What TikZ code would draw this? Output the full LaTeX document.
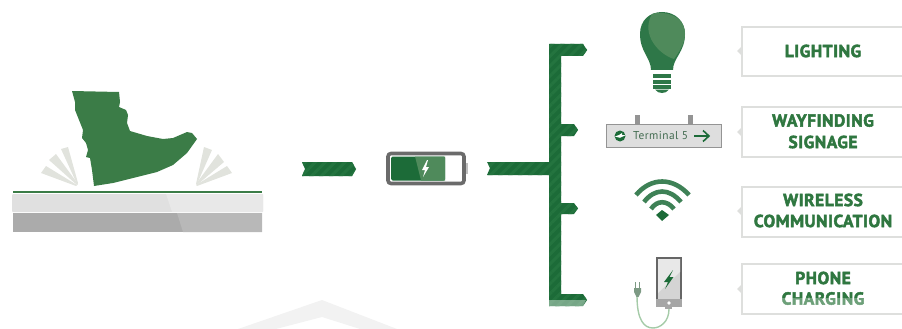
\documentclass[tikz,border=0pt]{standalone}
\usepackage{fontspec}
\setmainfont{PT Sans}[LetterSpace=3,BoldFeatures={FakeBold=2.6}]
\usetikzlibrary{patterns.meta}
\definecolor{busgreen}{HTML}{1C6B38}
\definecolor{busstripe}{HTML}{24743F}
\definecolor{bootgreen}{HTML}{3B7C47}
\definecolor{lightgreen}{HTML}{4F8A5B}
\definecolor{labelgreen}{HTML}{2F7740}
\definecolor{boxgray}{HTML}{DEDFDD}
\definecolor{fangray}{HTML}{E1E3DD}
\definecolor{plugcolor}{HTML}{7D9A84}
\definecolor{cablecolor}{HTML}{A5CBA8}
\tikzset{
	bus/.style={pattern={Lines[angle=45,distance=7pt,line width=3pt]},pattern color=busstripe},
	labelbox/.style={draw=boxgray,line width=2.6pt,fill=white},
	labeltext/.style={text=labelgreen,font=\fontsize{17.4}{20}\selectfont\bfseries,align=center},
	fan/.style={fill=fangray},
	wave/.style={draw=busgreen!85!white,line width=4.6pt}
}
\begin{document}
\begin{tikzpicture}[x=1pt,y=-1pt]
	\useasboundingbox (0,0) rectangle (902,329);
	% watermark
	\fill[black!5] (238,329) -- (322,300) -- (397,329) -- (360,329) -- (322,317) -- (276,329) -- cycle;
	% platform
	\fill[black!12,rounded corners=1pt] (12,194) rectangle (263,212);
	\fill[black!9] (166,194) -- (263,194) -- (263,212) -- (172,212) -- cycle;
	\fill[black!33] (13,213) rectangle (262,232);
	\fill[black!28] (177,213) -- (262,213) -- (262,232) -- (183,232) -- cycle;
	\draw[bootgreen,line width=1.6pt] (13,192) -- (262,192);
	% boot
	\fill[bootgreen] (72,91) -- (119,92) -- (120,102) -- (119,107) -- (126,110) -- (128,115)
		-- (127,123) -- (130,131) -- (147,136) -- (163,139) -- (173,138) -- (187,132) -- (192,133)
		-- (197,139) -- (187,153) -- (173,165) -- (157,172) -- (133,178) -- (113,183) -- (94,186)
		-- (92,170) -- (90,158) -- (86,157) -- (88,150) -- (86,143) -- (82,138) -- (83,130)
		-- (79,120) -- (75,110) -- (75,102) -- cycle;
	\fill[fan] (61,149) -- (68,147) -- (78,183) -- (77,184) -- cycle;
	\fill[fan] (49,160) -- (56,154) -- (78,184) -- (77,185) -- cycle;
	\fill[fan] (41,173) -- (46,166) -- (77,185) -- (76,186) -- cycle;
	\fill[fan] (204,147) -- (212,150) -- (197,184) -- (196,184) -- cycle;
	\fill[fan] (218,154) -- (224,162) -- (197,185) -- (196,184) -- cycle;
	\fill[fan] (227,166) -- (232,173) -- (197,186) -- (196,185) -- cycle;
	% arrows
	\fill[busgreen] (302,162) -- (352,162) -- (356,169) -- (352,176) -- (302,176) -- (305,169) -- cycle;
	\fill[bus] (302,162) -- (352,162) -- (356,169) -- (352,176) -- (302,176) -- (305,169) -- cycle;
	\fill[busgreen] (487,162) -- (549,162) -- (549,44) -- (583,44) -- (587,50) -- (583,56) -- (561,56)
		-- (561,124) -- (574,124) -- (578,130) -- (574,136) -- (561,136) -- (561,203) -- (574,203)
		-- (578,208.5) -- (574,214) -- (561,214) -- (561,294) -- (583,294) -- (587,300) -- (583,306)
		-- (549,306) -- (549,175) -- (487,175) -- (490,168) -- cycle;
	\fill[bus] (487,162) -- (549,162) -- (549,44) -- (583,44) -- (587,50) -- (583,56) -- (561,56)
		-- (561,124) -- (574,124) -- (578,130) -- (574,136) -- (561,136) -- (561,203) -- (574,203)
		-- (578,208.5) -- (574,214) -- (561,214) -- (561,294) -- (583,294) -- (587,300) -- (583,306)
		-- (549,306) -- (549,175) -- (487,175) -- (490,168) -- cycle;
	\fill[white,opacity=.4] (549,300) -- (586,300) -- (583,306) -- (549,306) -- cycle;
	% battery
	\fill[black!25] (465,163) rectangle (468,174);
	\draw[black!58,line width=3.6pt,rounded corners=3pt,fill=white] (388,153.5) rectangle (464,183.5);
	\fill[busgreen,rounded corners=1.5pt] (391,156.5) rectangle (445,180.5);
	\fill[lightgreen] (415,156.5) -- (445,156.5) -- (445,180.5) -- (421,180.5) -- cycle;
	\fill[white] (427,160) -- (422,170) -- (425,170) -- (423,177) -- (429,167) -- (426,167) -- (428,160) -- cycle;
	% bulb
	\fill[busgreen!92!white] (651,70) .. controls (651,58) and (640,52) .. (640,34)
		.. controls (640,20) and (650,12) .. (662,12) .. controls (675,12) and (685,21) .. (685,34)
		.. controls (685,52) and (673,58) .. (673,70) -- cycle;
	\fill[lightgreen] (652,14) .. controls (660,11) and (685,13) .. (685,34)
		.. controls (685,43) and (679,52) .. (674,59) .. controls (660,55) and (640,35) .. (652,14) -- cycle;
	\fill[busgreen!92!white] (653,74) rectangle (671,78);
	\fill[busgreen!92!white] (653,80) rectangle (671,83.5);
	\fill[busgreen!92!white] (653,85) rectangle (671,88.5);
	\fill[busgreen!92!white] (655,89.5) -- (669,89.5) .. controls (667,92) and (665,93) .. (662,93)
		.. controls (659,93) and (657,92) .. (655,89.5) -- cycle;
	% sign
	\fill[black!42] (635,115) rectangle (640,124);
	\fill[black!42] (688,115) rectangle (693,124);
	\draw[black!42,fill=black!13,line width=1pt] (606.5,124.5) rectangle (721.5,147);
	\node[circle,fill=busgreen,inner sep=0pt,minimum size=11pt] (logo) at (620,136) {};
	\fill[white] (615,136.5) -- (619,135) -- (622,133) -- (622,135) -- (625.5,135.2) -- (620,137.8) -- cycle;
	\node[anchor=west,inner sep=0pt,text=black!35!busgreen!80!white,font=\addfontfeatures{LetterSpace=4}\fontsize{11.4}{12}\selectfont] (terminal) at (633,136) {Terminal 5};
	\coordinate (signa) at (694,136);
	\coordinate (signb) at (709,136);
	\draw[busgreen,line width=1.6pt] (signa) -- (signb);
	\draw[busgreen,line width=1.6pt] (703,130.5) -- (signb) -- (703,141.5);
	% wifi
	\draw[wave] (636,195) .. controls (651,177) and (673,177) .. (689,195);
	\draw[wave] (644,202) .. controls (655,188) and (669,188) .. (681,202);
	\draw[wave] (651,209) .. controls (657,200) and (667,200) .. (674,209);
	\fill[busgreen] (656,215) -- (662,210) -- (669,215) -- (662,221) -- cycle;
	% phone
	\draw[black!60,line width=1.8pt,fill=black!17] (656.9,257.9) rectangle (681.1,300);
	\fill[black!9] (658,259) -- (680,259) -- (680,272) -- (658,293) -- cycle;
	\fill[black!35] (656,299) rectangle (682,307);
	\fill[white] (669,303) circle (1.9);
	\fill[busgreen] (673,270) -- (664,282) -- (668,282) -- (665,289) -- (673.5,277) -- (669.5,277) -- cycle;
	\fill[black!35] (665,307) rectangle (672,309);
	\draw[cablecolor,line width=1.4pt] (669,309) .. controls (669,322) and (660,328) .. (653,328)
		.. controls (644,328) and (637,320) .. (637,296);
	\fill[plugcolor] (634,288) -- (641,288) -- (641,292) -- (638.5,297) -- (636.5,297) -- (634,292) -- cycle;
	\fill[plugcolor] (634.8,282) rectangle (636.2,288);
	\fill[plugcolor] (638.8,282) rectangle (640.2,288);
	% labels
	\foreach \ytop/\ybot/\ymid in {27/76/51,107/157/132,187/237/211,264/314/289}{
		\fill[boxgray] (741,\ymid-4) -- (737,\ymid) -- (741,\ymid+4) -- cycle;
		\draw[labelbox] (742,\ytop) rectangle (904,\ybot);
	}
	\node[labeltext] (lighting) at (823,51) {LIGHTING};
	\node[labeltext] (wayfinding) at (823,120.5) {WAYFINDING};
	\node[labeltext] (signage) at (823,142) {SIGNAGE};
	\node[labeltext] (wireless) at (823,200) {WIRELESS};
	\node[labeltext] (communication) at (823,221) {COMMUNICATION};
	\node[labeltext] (phone) at (823,278) {PHONE};
	\node[labeltext] (charging) at (823,298.5) {CHARGING};
	% fade over the last row
	\fill[white,opacity=.3] (760,298) rectangle (890,306);
\end{tikzpicture}
\end{document}
